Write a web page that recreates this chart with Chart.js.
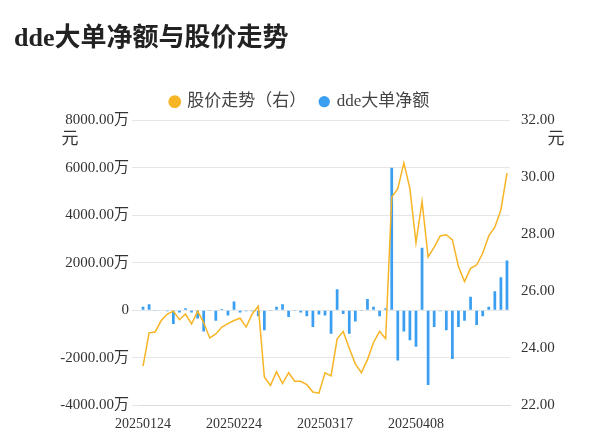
<!DOCTYPE html>
<html><head><meta charset="utf-8">
<script src="https://cdn.jsdelivr.net/npm/chart.js@4/dist/chart.umd.min.js"></script>
<style>body{margin:0;background:#fff}</style>
</head><body><canvas id="c" width="600" height="446"></canvas>
<script>
const categories=["20250124","20250127","20250205","20250206","20250207","20250210","20250211","20250212","20250213","20250214","20250217","20250218","20250219","20250220","20250221","20250224","20250225","20250226","20250227","20250228","20250303","20250304","20250305","20250306","20250307","20250310","20250311","20250312","20250313","20250314","20250317","20250318","20250319","20250320","20250321","20250324","20250325","20250326","20250327","20250328","20250331","20250401","20250402","20250403","20250407","20250408","20250409","20250410","20250411","20250414","20250415","20250416","20250417","20250418","20250421","20250422","20250423","20250424","20250425","20250428","20250429"];
const ddeValues=[150,250,-30,-20,-40,-580,-100,80,-100,-350,-900,-30,-440,50,-220,370,-100,-40,-40,-250,-840,-30,150,250,-290,-30,-100,-250,-710,-180,-220,-990,880,-160,-990,-480,-30,475,150,-250,80,6000,-2120,-900,-1260,-1540,2630,-3150,-710,-40,-840,-2050,-710,-440,570,-620,-250,150,800,1390,2090];
const priceValues=[23.37,24.54,24.57,24.97,25.2,25.3,25.0,25.2,24.85,25.3,24.9,24.36,24.5,24.74,24.86,24.97,25.05,24.74,25.2,25.47,22.99,22.69,23.17,22.76,23.14,22.84,22.84,22.72,22.46,22.42,23.14,23.03,24.33,24.59,24.0,23.45,23.14,23.6,24.2,24.59,24.33,29.3,29.6,30.5,29.6,27.7,29.15,27.2,27.55,27.94,27.98,27.8,26.87,26.34,26.8,26.92,27.33,27.94,28.25,28.85,30.14];
const shownTicks=[0,15,30,45];
const F="'Liberation Serif','Noto Sans CJK SC',serif";
const unitPlugin={id:'unit',afterDraw(c){const x=c.ctx;x.save();x.font="17px "+F;x.fillStyle='#333';x.textAlign='center';x.fillText('元',70,140);x.fillText('元',556,140);x.restore();}};
new Chart(document.getElementById('c'),{
data:{labels:categories,datasets:[
{type:'bar',label:'dde大单净额',data:ddeValues,yAxisID:'y',backgroundColor:'#3a9ff0',barPercentage:0.45,categoryPercentage:1,order:1},
{type:'line',label:'股价走势（右）',data:priceValues,yAxisID:'y1',borderColor:'#f7b424',backgroundColor:'#f7b424',borderWidth:1.5,pointRadius:0,tension:0,order:0}]},
plugins:[unitPlugin],
options:{responsive:false,animation:false,devicePixelRatio:1,
layout:{padding:{left:14,right:14,top:8,bottom:10}},
plugins:{title:{display:true,text:'dde大单净额与股价走势',align:'start',color:'#222',font:{family:F,size:26,weight:'bold'},padding:{top:16,bottom:24}},
legend:{labels:{usePointStyle:true,pointStyle:'circle',boxWidth:8,boxHeight:8,color:'#444',font:{family:F,size:17},padding:14}},tooltip:{enabled:false}},
scales:{
x:{grid:{display:false},border:{display:true,color:'#ddd'},ticks:{autoSkip:false,maxRotation:0,color:'#333',font:{family:F,size:14},callback:(v,i)=>shownTicks.includes(i)?categories[i]:''}},
y:{position:'left',min:-4000,max:8000,afterFit(s){s.width=126},ticks:{stepSize:2000,color:'#333',font:{family:F,size:15},callback:v=>v===0?'0':v.toFixed(2)+'万'},grid:{color:'#e6e6e6',borderDash:[6,4]},border:{display:false}},
y1:{position:'right',min:22,max:32,afterFit(s){s.width=76},ticks:{stepSize:2,color:'#333',font:{family:F,size:15},callback:v=>v.toFixed(2)},grid:{display:false},border:{display:false}}
}}});
</script></body></html>
